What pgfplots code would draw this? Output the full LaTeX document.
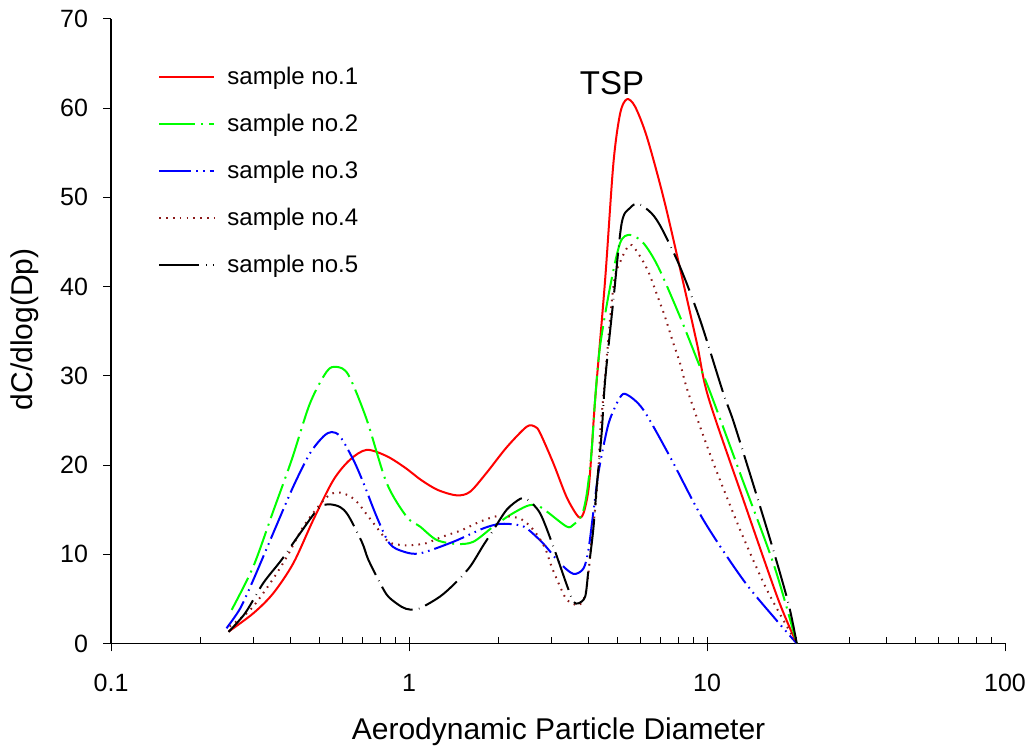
\documentclass[border=0pt]{standalone}
\usepackage{pgfplots}
\pgfplotsset{compat=1.18}
\usepackage{fontspec}
\setmainfont{Liberation Sans}
\definecolor{c1}{HTML}{FF0000}
\definecolor{c2}{HTML}{00FF00}
\definecolor{c3}{HTML}{0000FF}
\definecolor{c4}{HTML}{8B1A1A}
\definecolor{c5}{HTML}{000000}
\begin{document}
\begin{tikzpicture}
\begin{semilogxaxis}[
  scale only axis, width=447pt, height=312.25pt,
  xmin=0.1, xmax=100, ymin=0, ymax=70,
  axis x line=bottom, axis y line=left,
  axis line style={-, line width=0.7pt},
  xtick={0.1,1,10,100}, xticklabels={0.1,1,10,100},
  ytick={0,10,20,30,40,50,60,70},
  tick align=outside,
  major tick length=4pt, minor tick length=3pt,
  every minor tick/.append style={yshift=3pt},
  tick style={black, line width=0.5pt},
  /pgf/number format/assume math mode=true,
  ticklabel style={font=\fontsize{12.5}{15}\selectfont},
  xticklabel style={yshift=-8pt},
  yticklabel style={xshift=-4pt},
  xlabel={Aerodynamic Particle Diameter},
  ylabel={dC/dlog(Dp)},
  label style={font=\fontsize{15}{18}\selectfont},
  xlabel style={at={(axis description cs:0.5006,-0.1417)}, anchor=center},
  ylabel style={at={(axis description cs:-0.096,0.503)}, anchor=center},
  clip=false,
  legend style={draw=none, fill=none, at={(axis description cs:0.0526,0.93)}, anchor=north west, font=\fontsize{12}{14}\selectfont, row sep=9.3pt, inner sep=0pt},
  legend cell align=left,
  legend image code/.code={\draw[#1] (0pt,0pt) -- (27.5pt,0pt); \path (31.5pt,0pt);},
]
\addplot[c1, line width=1pt, smooth] coordinates {
(0.248,1.33) (0.300,3.37) (0.350,5.61) (0.409,8.99) (0.477,13.84) (0.557,18.3) (0.634,20.6) (0.721,21.7) (0.841,21.0) (0.97,19.7) (1.10,18.3) (1.25,17.2) (1.445,16.6) (1.602,17.0) (1.823,19.15) (2.128,22.0) (2.483,24.3) (2.648,24.3) (2.752,23.6) (3.05,20.2) (3.38,16.4) (3.70,14.2) (3.85,14.6) (4.00,17.2) (4.10,21.6) (4.21,27.2) (4.55,40.75) (4.85,53.8) (5.11,59.4) (5.38,61.0) (5.73,60.2) (6.28,56.8) (7.14,50.0) (8.12,42.0) (9.24,33.7) (10.1,27.6) (13.24,16.1) (17.3,5.0) (20,0)
};
\addlegendentry{sample no.1}
\addplot[c2, line width=1pt, smooth, dash pattern=on 18pt off 3pt on 1pt off 3pt] coordinates {
(0.254,3.76) (0.300,8.6) (0.350,14.8) (0.404,20.6) (0.465,26.9) (0.530,30.5) (0.572,31.0) (0.626,30.1) (0.721,25.1) (0.841,18.0) (0.982,14.2) (1.089,13.1) (1.238,11.6) (1.445,11.15) (1.644,11.4) (1.918,13.1) (2.183,14.4) (2.483,15.4) (2.682,15.5) (2.897,14.8) (3.38,13.1) (3.56,13.3) (3.80,14.4) (3.95,16.8) (4.10,21.6) (4.21,27.3) (4.375,33.3) (4.73,40.0) (5.11,44.9) (5.51,45.8) (6.11,44.9) (6.86,42.2) (8.12,36.6) (9.47,31.0) (10.37,27.7) (13.0,18.8) (16.8,8.7) (20,0)
};
\addlegendentry{sample no.2}
\addplot[c3, line width=1pt, smooth, dash pattern=on 16pt off 2.5pt on 0.8pt off 2.5pt on 0.8pt off 2.5pt] coordinates {
(0.244,1.7) (0.271,3.9) (0.300,7.1) (0.350,12.35) (0.409,17.6) (0.465,21.3) (0.516,23.2) (0.550,23.7) (0.587,23.2) (0.650,20.6) (0.703,18.0) (0.779,14.2) (0.860,11.2) (0.957,10.3) (1.089,10.1) (1.409,11.4) (1.776,12.9) (2.02,13.4) (2.30,13.3) (2.483,12.9) (2.82,11.2) (3.21,9.0) (3.56,7.8) (3.85,8.4) (4.00,10.5) (4.15,14.6) (4.32,19.1) (4.55,23.0) (4.73,25.2) (5.11,27.6) (5.38,27.9) (6.11,26.2) (7.52,20.9) (9.72,13.85) (13.24,7.1) (17.1,2.6) (20,0)
};
\addlegendentry{sample no.3}
\addplot[c4, line width=1pt, smooth, dash pattern=on 0.8pt off 2.6pt] coordinates {
(0.250,1.9) (0.293,3.75) (0.342,6.75) (0.389,9.7) (0.442,13.1) (0.509,15.8) (0.550,16.8) (0.587,16.9) (0.634,16.5) (0.676,15.7) (0.716,14.6) (0.759,13.5) (0.80,12.5) (0.852,11.4) (0.909,11.1) (0.982,11.0) (1.132,11.2) (1.303,12.0) (1.503,12.7) (1.731,13.65) (1.994,14.3) (2.30,14.1) (2.45,13.65) (2.648,12.5) (2.86,10.7) (3.01,8.6) (3.21,6.4) (3.38,4.9) (3.58,4.4) (3.73,4.3) (3.90,5.4) (4.00,7.9) (4.10,11.6) (4.21,15.0) (4.32,19.45) (4.375,23.6) (4.49,27.7) (4.85,40.0) (5.15,43.0) (5.51,44.7) (5.88,43.7) (6.35,41.7) (6.86,38.7) (7.23,36.6) (7.71,33.65) (8.12,31.4) (8.66,28.05) (10.4,20.6) (13.0,12.5) (16.0,5.8) (20,0)
};
\addlegendentry{sample no.4}
\addplot[c5, line width=1pt, smooth, dash pattern=on 20pt off 3.2pt on 0.3pt off 3.2pt] coordinates {
(0.248,1.3) (0.282,3.4) (0.324,6.75) (0.374,9.4) (0.431,12.35) (0.503,15.3) (0.565,15.5) (0.618,14.6) (0.694,11.4) (0.730,9.4) (0.80,6.75) (0.852,5.25) (0.945,4.1) (1.008,3.8) (1.089,3.95) (1.27,5.25) (1.427,6.75) (1.602,8.6) (1.776,11.0) (1.918,12.7) (2.128,15.0) (2.358,16.2) (2.483,16.2) (2.752,14.6) (3.05,10.85) (3.38,6.6) (3.56,4.7) (3.70,4.5) (3.90,5.25) (4.00,8.25) (4.15,12.7) (4.265,17.6) (4.43,23.6) (4.55,29.5) (4.85,38.5) (5.17,47.1) (5.51,48.8) (5.88,49.3) (6.52,48.2) (7.05,46.5) (8.12,42.2) (9.47,36.3) (11.34,28.05) (12.4,24.4) (16.0,12.5) (18.7,4.65) (20,0)
};
\addlegendentry{sample no.5}
\node[font=\fontsize{16.5}{19}\selectfont] at (axis cs:4.8,62.8) {TSP};
\path (rel axis cs:-0.1242,-0.1705) rectangle (rel axis cs:1.0324,1.0304);
\end{semilogxaxis}
\end{tikzpicture}
\end{document}
